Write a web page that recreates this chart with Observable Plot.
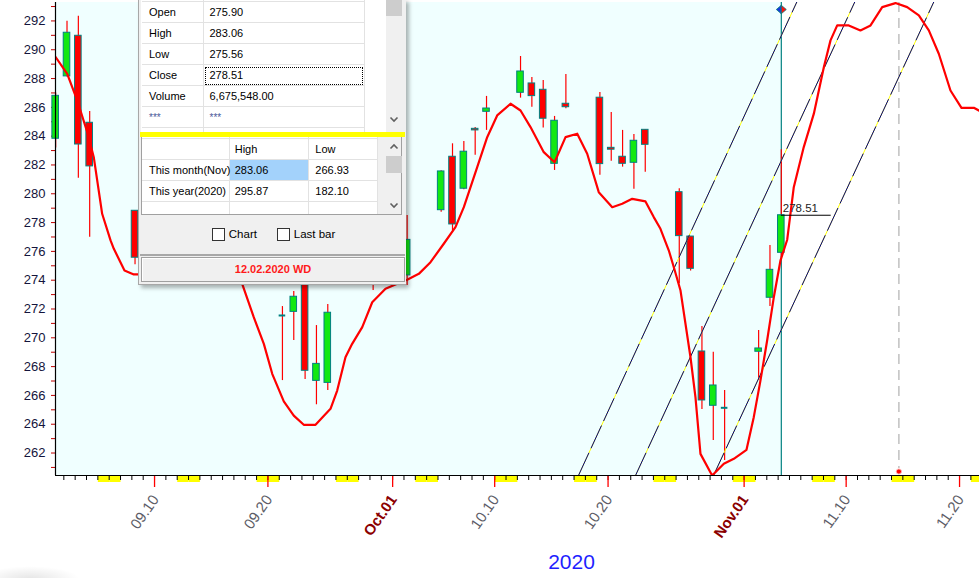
<!DOCTYPE html>
<html>
<head>
<meta charset="utf-8">
<script src="https://cdn.jsdelivr.net/npm/d3@7"></script>
<script src="https://cdn.jsdelivr.net/npm/@observablehq/plot@0.6"></script>
<style>
  body { margin: 0; background: #fff; }
  #wrap { position: relative; width: 979px; height: 578px; overflow: hidden; font-family: "Liberation Sans", Arial, sans-serif; }
  #wrap svg { display: block; }
  #panel { position: absolute; left: 138px; top: -1px; width: 268px; height: 286px; background: #f0f0f0;
           border-left: 1px solid #a8a8a8; border-bottom: 1px solid #a8a8a8; box-sizing: border-box;
           box-shadow: 3px 3px 4px rgba(0,0,0,0.30); font-size: 11px; color: #000; }
  #shade { position: absolute; left: -20px; top: 566px; width: 100px; height: 26px; border-radius: 50%;
           background: radial-gradient(ellipse at center, rgba(0,0,0,0.10), rgba(0,0,0,0) 70%); }
</style>
</head>
<body>
<div id="wrap"><div id="shade"></div></div>
<script>
// ---------------- data ----------------
const barDates = ["2020-09-01","2020-09-02","2020-09-03","2020-09-04","2020-09-08","2020-09-09","2020-09-10","2020-09-11",
  "2020-09-14","2020-09-15","2020-09-16","2020-09-17","2020-09-18","2020-09-21","2020-09-22","2020-09-23","2020-09-24","2020-09-25",
  "2020-09-28","2020-09-29","2020-09-30","2020-10-01","2020-10-02","2020-10-05","2020-10-06","2020-10-07","2020-10-08","2020-10-09",
  "2020-10-12","2020-10-13","2020-10-14","2020-10-15","2020-10-16","2020-10-19","2020-10-20","2020-10-21","2020-10-22","2020-10-23",
  "2020-10-26","2020-10-27","2020-10-28","2020-10-29","2020-10-30","2020-11-02","2020-11-03","2020-11-04"];
const barOpen  = [283.82,288.15,290.97,284.93,278.82,276.50,279.20,276.60,277.60,279.20,278.80,275.40,276.00,271.55,271.80,274.30,267.01,266.87,
  274.60,275.90,275.00,277.20,274.33,278.86,282.57,280.35,284.51,285.69,287.01,287.66,287.22,282.08,286.25,286.67,283.19,282.57,282.15,284.44,
  280.11,277.03,269.05,265.28,265.14,269.03,272.78,275.90];
const barHigh  = [287.00,291.97,292.33,285.72,278.82,279.80,280.50,277.60,279.50,280.20,279.90,276.90,276.60,272.17,273.22,275.00,270.85,272.31,
  276.30,276.50,277.00,277.90,278.49,281.60,283.47,283.63,284.60,286.76,289.53,288.08,287.87,285.37,288.28,287.03,285.65,284.40,284.12,284.45,
  280.35,277.03,270.78,269.00,266.34,270.51,276.41,283.06];
const barLow   = [283.17,288.10,281.08,276.99,275.07,275.90,275.80,274.60,277.00,277.60,276.40,274.30,273.90,267.03,269.81,267.10,265.35,266.35,
  274.10,273.28,274.20,275.90,273.63,278.72,277.45,280.28,282.68,284.40,286.64,286.01,284.56,281.62,285.90,281.29,282.26,281.85,280.32,281.50,
  273.75,274.63,265.02,262.87,261.48,267.04,272.17,275.56];
const barClose = [286.80,291.18,283.42,281.90,275.56,279.00,276.20,276.20,278.60,278.30,276.90,276.20,274.40,271.55,272.85,267.71,268.19,271.74,
  275.80,275.20,276.40,276.60,276.80,281.55,277.87,282.92,284.40,285.92,288.49,286.78,285.21,285.07,286.01,282.06,283.06,282.08,283.68,283.40,
  277.06,274.79,265.65,266.69,265.14,269.26,274.72,278.51];

// forecast curve: days after 2020-09-01, value
const curveDays = [0.26,1.30,2.18,3.11,3.64,4.38,5.12,5.41,6.35,7.17,7.61,9.0,10.5,12.0,13.5,15.0,16.73,17.75,18.64,19.38,20.40,21.28,22.16,23.20,
  24.52,25.11,25.84,26.43,27.32,28.20,29.37,30.40,31.28,32.31,33.34,34.51,35.54,36.28,37.46,38.34,39.22,40.40,41.28,42.16,43.33,44.28,45.25,
  46.28,47.16,48.18,49.37,50.25,51.13,52.30,53.03,53.62,54.36,54.80,55.39,56.27,56.71,57.15,58.18,59.21,60.09,61.21,61.85,62.44,63.03,63.62,
  64.21,64.80,65.38,66.26,67.15,68.03,68.62,69.21,70.23,71.26,72.15,73.18,74.35,75.38,76.41,77.29,78.17,79.20,80.17,81.26,81.70];
const curveValues = [289.51,288.33,286.48,284.17,282.54,278.61,276.76,276.18,274.67,274.40,274.40,274.60,275.30,275.60,275.40,274.80,273.75,271.43,
  269.58,267.50,265.59,264.60,263.96,263.96,265.07,266.34,268.65,269.58,270.74,272.47,273.40,273.75,274.03,274.44,275.25,276.53,277.68,279.07,
  281.85,283.93,285.44,286.25,285.78,284.63,282.89,282.19,283.93,284.17,282.78,280.11,279.07,279.31,279.65,279.47,278.38,277.57,276.06,274.90,
  273.28,268.65,265.87,261.94,260.44,261.25,261.60,262.22,264.49,267.03,269.81,272.82,275.38,276.81,280.46,283.24,285.56,288.79,290.65,291.69,
  291.69,291.34,291.69,292.96,293.24,292.96,292.38,291.34,289.72,287.17,285.97,285.97,285.78];

// parallel trend lines (days after 2020-09-01, price)
const trendStartDay = [46.39, 51.42, 58.30];
const trendStartPrice = [260.44, 260.44, 260.44];
const trendEndDay = [65.71, 70.82, 77.79];
const trendEndPrice = [293.42, 293.42, 293.42];

const cycleDay = 74.65;     // dashed projection marker

const tickDates  = ["2020-09-10","2020-09-20","2020-10-01","2020-10-10","2020-10-20","2020-11-01","2020-11-10","2020-11-20"];
const tickLabels = ["09.10","09.20","Oct.01","10.10","10.20","Nov.01","11.10","11.20"];
const yearLabel = "2020";

const infoLabels = ["Open","High","Low","Close","Volume","***"];
const infoValues = ["275.90","283.06","275.56","278.51","6,675,548.00","***"];
const rangeHeader = ["", "High", "Low"];
const rangeRows = ["This month(Nov)", "This year(2020)"];
const rangeHigh = ["283.06", "295.87"];
const rangeLow = ["266.93", "182.10"];
const checkLabels = ["Chart", "Last bar"];
const statusText = "12.02.2020 WD";

// ---------------- derived ----------------
const day0 = Date.UTC(2020, 8, 1);
const dayIndex = s => (Date.parse(s + "T00:00:00Z") - day0) / 864e5;
const off = 0.28, halfW = 0.29;
const bars = barDates.map((d, i) => ({t: dayIndex(d) + off, o: barOpen[i], h: barHigh[i], l: barLow[i], c: barClose[i]}));
const up = bars.filter(b => b.c > b.o), down = bars.filter(b => b.c < b.o), doji = bars.filter(b => b.c === b.o);
const last = bars[bars.length - 1];
const curve = curveDays.map((t, i) => ({t, v: curveValues[i]}));
const trends = trendStartDay.map((t, i) => ({x1: t, y1: trendStartPrice[i], x2: trendEndDay[i], y2: trendEndPrice[i]}));

const xDomain = [0.265, 81.76], yDomain = [260.44, 293.28];
const dayTicks = d3.range(1, 82);
const weekendMid = dayTicks.concat([0]).filter(t => { const w = new Date(day0 + t * 864e5).getUTCDay(); return w === 0 || w === 6; }).map(t => t + 0.5);
const majors = tickDates.map((d, i) => ({t: dayIndex(d), label: tickLabels[i], month: /[A-Za-z]/.test(tickLabels[i])}));
const yMinor = d3.range(261, 294);
const yMajor = d3.range(262, 293, 2);

const halfDiamond = side => ({draw(ctx, size) {
  const r = Math.sqrt(size / Math.PI), w = r, h = r * 0.85;
  ctx.moveTo(0, -h); ctx.lineTo(side * w, 0); ctx.lineTo(0, h); ctx.closePath();
}});

const chart = Plot.plot({
  width: 979, height: 578,
  marginLeft: 55, marginRight: 0, marginTop: 2, marginBottom: 103,
  x: {domain: xDomain, axis: null, label: null},
  y: {domain: yDomain, axis: null, label: null},
  style: {background: "transparent", fontFamily: "Liberation Sans, Arial, sans-serif", overflow: "visible"},
  marks: [
    Plot.rect([0], {x1: () => xDomain[0], x2: () => last.t, y1: () => yDomain[0], y2: () => yDomain[1], fill: "#f0ffff"}),
    // x-axis decorations
    Plot.axisX(weekendMid, {tickSize: 7, color: "#ffff00", strokeWidth: 11.34, tickFormat: () => "", label: null}),
    Plot.axisX(dayTicks, {tickSize: 5, color: "#000", tickFormat: () => "", label: null}),
    Plot.axisX(majors.map(d => d.t), {tickSize: 12, color: "#ff0000", strokeWidth: 1.3, tickFormat: () => "", label: null}),
    Plot.text(majors.filter(d => !d.month), {x: "t", text: "label", frameAnchor: "bottom", rotate: -55, textAnchor: "end",
      dx: 5, dy: 24, fontSize: 15, fill: "#5c5c66"}),
    Plot.text(majors.filter(d => d.month), {x: "t", text: "label", frameAnchor: "bottom", rotate: -55, textAnchor: "end",
      dx: 5, dy: 24, fontSize: 15, fontWeight: "bold", fill: "#8b0000"}),
    Plot.text([yearLabel], {text: d => d, frameAnchor: "bottom", dx: 54, dy: 93, fontSize: 21, fill: "#1f1fff"}),
    // y-axis
    Plot.axisY(yMinor, {tickSize: 4, color: "#c00000", tickFormat: () => "", label: null}),
    Plot.axisY(yMajor, {tickSize: 0, tickPadding: 10, color: "#14143c", fontSize: 13, label: null}),
    // projection marker
    Plot.ruleX([cycleDay], {x: d => d, stroke: "#c0c0c0", strokeWidth: 1.5, strokeDasharray: "10,6", insetBottom: 7}),
    Plot.dot([cycleDay], {x: d => d, frameAnchor: "bottom", dy: -4, r: 2.6, fill: "#ff0000", stroke: "#ffb8b8", strokeWidth: 1}),
    // last bar marker line
    Plot.ruleX([last], {x: "t", stroke: "#008080", strokeWidth: 1.2}),
    // candles
    Plot.ruleX(bars, {x: "t", y1: "l", y2: "h", stroke: "#ff0000", strokeWidth: 1.2}),
    Plot.rect(up, {x1: d => d.t - halfW, x2: d => d.t + halfW, y1: "o", y2: "c", fill: "#12e812", stroke: "#008080", strokeWidth: 1}),
    Plot.rect(down, {x1: d => d.t - halfW, x2: d => d.t + halfW, y1: "o", y2: "c", fill: "#ff0000", stroke: "#008080", strokeWidth: 1}),
    Plot.ruleY(doji, {y: "o", x1: d => d.t - halfW, x2: d => d.t + halfW, stroke: "#008080", strokeWidth: 2}),
    // trend lines
    Plot.link(trends, {x1: "x1", y1: "y1", x2: "x2", y2: "y2", stroke: "#ffff00", strokeWidth: 1, clip: true}),
    Plot.link(trends, {x1: "x1", y1: "y1", x2: "x2", y2: "y2", stroke: "#000080", strokeWidth: 1, strokeDasharray: "25,5", clip: true}),
    // forecast curve
    Plot.line(curve, {x: "t", y: "v", stroke: "#ff0000", strokeWidth: 2.2, clip: true}),
    // close label
    Plot.ruleY([last], {y: "c", x1: "t", x2: d => d.t + 4.4, stroke: "#000", strokeWidth: 1}),
    Plot.text([last], {x: "t", y: "c", text: d => d.c.toFixed(2), textAnchor: "start", dx: 1.5, dy: -7, fontSize: 11.5, fill: "#222"}),
    Plot.dot([last], {x: "t", frameAnchor: "top", dy: 7, r: 5, symbol: halfDiamond(-1), fill: "#1a3adc", stroke: "#008080", strokeWidth: 0.8}),
    Plot.dot([last], {x: "t", frameAnchor: "top", dy: 7, r: 5, symbol: halfDiamond(1), fill: "#ff1010", stroke: "#008080", strokeWidth: 0.8}),
    // axis lines
    Plot.ruleX([xDomain[0]], {x: d => d, stroke: "#000", strokeWidth: 1.2}),
    Plot.ruleY([yDomain[0]], {y: d => d, stroke: "#000", strokeWidth: 1.2})
  ]
});
const wrap = document.getElementById("wrap");
wrap.insertBefore(chart, wrap.firstChild);

// ---------------- info panel ----------------
const panel = document.createElement("div");
panel.id = "panel";
wrap.appendChild(panel);
function box(x, y, w, h, css = "", text = null, html = null) {
  const d = document.createElement("div");
  d.style.cssText = `position:absolute;left:${x}px;top:${y + 1}px;width:${w}px;height:${h}px;box-sizing:border-box;${css}`;
  if (text != null) d.textContent = text;
  if (html != null) d.innerHTML = html;
  panel.appendChild(d);
  return d;
}
const chevDown = `<svg width="10" height="7" style="display:block;margin:auto"><polyline points="1.5,1.5 5,5 8.5,1.5" fill="none" stroke="#606060" stroke-width="1.6"/></svg>`;
const chevUp = `<svg width="10" height="7" style="display:block;margin:auto"><polyline points="1.5,5.5 5,2 8.5,5.5" fill="none" stroke="#606060" stroke-width="1.6"/></svg>`;
const grid = "#e2e2e2";
const txt = (x, y, w, h, t, css = "") => box(x, y, w, h, `line-height:${h}px;white-space:nowrap;overflow:visible;${css}`, t);

// top table
box(2, -2, 245, 134, "background:#fff;");
const rowH = 21, row0 = 1.5;
for (let i = 0; i <= infoLabels.length; i++) box(3, row0 + i * rowH - 0.5, 222, 1, `background:${grid};`);
box(63.5, -2, 1, 134, `background:${grid};`);
box(224.5, -2, 1, 134, `background:${grid};`);
infoLabels.forEach((l, i) => {
  const y = row0 + i * rowH + 0.5;
  txt(10, y, 54, rowH, l, l === "***" ? "color:#4a5a9a;font-size:10px;" : "");
  txt(70.5, y, 150, rowH, infoValues[i], infoValues[i] === "***" ? "color:#4a5a9a;font-size:10px;" : "");
});
box(66, row0 + 3 * rowH + 2, 158, 18, "border:1px dotted #000;");
box(247, -2, 16, 134, "background:#f0f0f0;");
box(247, -2, 16, 18, "background:#cdcdcd;");
box(247, 116, 16, 10, "", null, chevDown);
// yellow separator
box(1, 132, 265, 4.5, "background:#ffff00;");
// second table
box(2, 137, 261, 78, "background:#f0f0f0;border:1px solid #a0a0a0;border-top:none;");
box(3, 137, 236, 77, "background:#fff;");
const r2 = 138.3, r2h = 21;
for (let i = 0; i <= 3; i++) box(3, r2 + i * r2h, 236, 1, `background:${grid};`);
box(89.5, 137, 1, 77, `background:${grid};`);
box(169.2, 137, 1, 77, `background:${grid};`);
box(238, 137, 1, 77, `background:${grid};`);
box(90.5, r2 + r2h + 1, 78.7, r2h - 1, "background:#a3d2fb;");
txt(95.7, r2 + 0.5, 70, r2h, rangeHeader[1]);
txt(176.3, r2 + 0.5, 60, r2h, rangeHeader[2]);
rangeRows.forEach((l, i) => {
  const y = r2 + (i + 1) * r2h + 0.5;
  txt(10, y, 80, r2h, l);
  txt(95.7, y, 70, r2h, rangeHigh[i]);
  txt(176.3, y, 60, r2h, rangeLow[i]);
});
box(247, 143, 16, 10, "", null, chevUp);
box(247, 156, 16, 17, "background:#cdcdcd;");
box(247, 202, 16, 10, "", null, chevDown);
// checkboxes
const cbX = [73.3, 138.3];
checkLabels.forEach((l, i) => {
  box(cbX[i], 227.7, 13, 13, "background:#fff;border:1px solid #333;");
  txt(cbX[i] + 16.5, 226.5, 60, 15, l, "font-size:11.5px;");
});
// separator + status box
box(1, 253.5, 265, 2, "background:#a8a8a8;");
box(2.3, 257, 263.4, 25, "border:1px solid #a0a0a0;box-shadow:inset 1px 1px 0 #fff;background:#f0f0f0;");
txt(2.3, 257, 263.4, 25, statusText, "text-align:center;color:#ff1a1a;font-weight:bold;font-size:11px;");
</script>
</body>
</html>
